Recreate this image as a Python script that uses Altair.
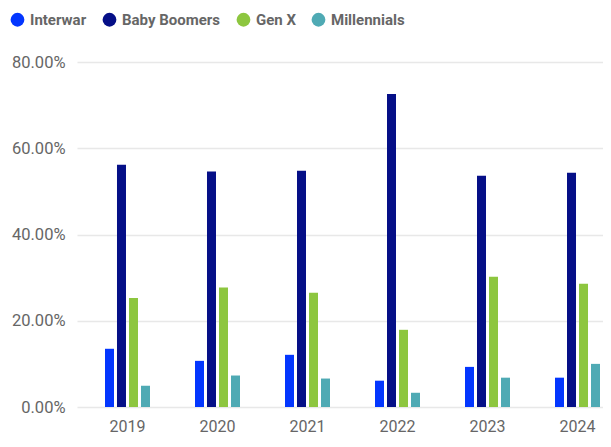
import altair as alt
import pandas as pd

years = ["2019", "2020", "2021", "2022", "2023", "2024"]
generations = ["Interwar", "Baby Boomers", "Gen X", "Millennials"]
interwar = [13.5, 10.7, 12.1, 6.1, 9.3, 6.8]
boomers = [56.2, 54.6, 54.8, 72.6, 53.6, 54.3]
genx = [25.3, 27.7, 26.5, 17.9, 30.2, 28.6]
millennials = [4.9, 7.3, 6.6, 3.3, 6.8, 10.0]
colors = ["#0336FF", "#050F87", "#8DC63F", "#4FAAB4"]

rows = []
for g, vals in zip(generations, [interwar, boomers, genx, millennials]):
    for y, v in zip(years, vals):
        rows.append({"year": y, "gen": g, "value": v / 100})
df = pd.DataFrame(rows)

chart = alt.Chart(df).mark_bar().encode(
    x=alt.X("year:N", sort=years, title=None,
            scale=alt.Scale(range=[0, 551], paddingInner=0.5, paddingOuter=0.311),
            axis=alt.Axis(labelAngle=0, domain=False, ticks=False, labelPadding=11,
                          labelFontSize=16, labelColor="#666666", labelFont="Roboto")),
    xOffset=alt.XOffset("gen:N", sort=generations,
                        scale=alt.Scale(paddingInner=0.25, paddingOuter=0)),
    y=alt.Y("value:Q", title=None,
            scale=alt.Scale(domain=[0, 0.8]),
            axis=alt.Axis(format=".2%", values=[0, 0.2, 0.4, 0.6, 0.8], domain=False, ticks=False,
                          labelPadding=12, labelFontSize=16.5, labelColor="#666666",
                          labelFont="Roboto", gridColor="#e8e8e8", gridWidth=1.5)),
    color=alt.Color("gen:N", sort=generations,
                    scale=alt.Scale(domain=generations, range=colors),
                    legend=alt.Legend(title=None, orient="none", direction="horizontal",
                                      legendX=-67, legendY=-50, symbolType="circle",
                                      symbolSize=190, symbolStrokeWidth=0,
                                      labelFontSize=15, labelFontWeight="bold",
                                      labelColor="#666666", labelFont="Roboto",
                                      labelOffset=5, columnPadding=15)),
).properties(
    width=526, height=345,
    autosize=alt.AutoSizeParams(type="none"),
    padding={"left": 69, "top": 54, "right": 0, "bottom": 32},
).configure_view(stroke=None)

chart.save("out.html", embed_options={"renderer": "svg", "actions": False})
